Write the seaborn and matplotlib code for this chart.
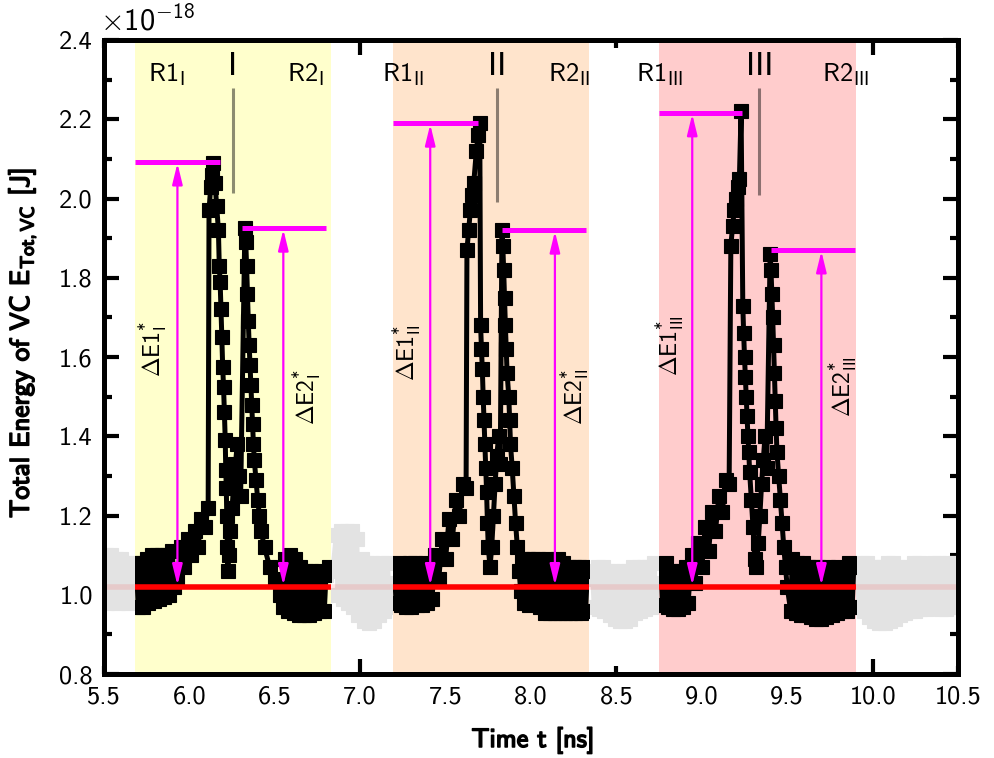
import numpy as np
import pandas as pd
import matplotlib
matplotlib.use("Agg")
import matplotlib.pyplot as plt
import matplotlib.patheffects as pe
from matplotlib.ticker import MultipleLocator, FormatStrFormatter, FixedLocator
import seaborn as sns

# ---------------- data (values in units of 1e-18 J, time in ns) ----------------
regions = [(5.68, 6.83), (7.19, 8.34), (8.75, 9.90)]
region_colors = ["#FFFFCC", "#FFE4CC", "#FFCCCC"]
roman = ["I", "II", "III"]
baseline = 1.02
peak1 = [2.093, 2.191, 2.217]
peak2 = [1.926, 1.921, 1.871]
peak1_x = [6.18, 7.69, 9.237]
peak2_x = [6.31, 7.83, 9.406]
peak2_end = [6.80, 8.32, 9.898]
arrow1_x = [5.93, 7.41, 8.944]
arrow2_x = [6.55, 8.14, 9.70]
marker_x = [6.255, 7.80, 9.336]
marker_bottom = [2.015, 1.99, 2.01]

t_I = [5.69, 5.70, 5.72, 5.73, 5.75, 5.76, 5.78, 5.79, 5.81, 5.82, 5.84, 5.85, 5.87, 5.88, 5.90, 5.91,
       5.93, 5.95, 5.97, 5.99, 6.01, 6.03, 6.05, 6.07, 6.09, 6.11,
       6.115, 6.125, 6.135, 6.14, 6.15, 6.16,
       6.17, 6.175, 6.18, 6.185, 6.19, 6.195, 6.20, 6.205, 6.21, 6.213, 6.216, 6.219, 6.222, 6.225,
       6.23, 6.24, 6.25, 6.26, 6.27, 6.28, 6.29, 6.30, 6.325,
       6.33, 6.335, 6.34, 6.345, 6.35, 6.355, 6.36, 6.365, 6.37, 6.375, 6.38, 6.39, 6.40, 6.41, 6.42,
       6.44, 6.47, 6.50, 6.53,
       6.55, 6.56, 6.58, 6.59, 6.61, 6.62, 6.64, 6.65, 6.67, 6.68, 6.70, 6.71, 6.73, 6.74, 6.76, 6.77,
       6.79, 6.80, 6.82]
E_I = [1.08, 0.97, 1.08, 0.97, 1.09, 0.98, 1.10, 0.985, 1.10, 0.99, 1.10, 0.995, 1.10, 1.00, 1.11, 1.02,
       1.04, 1.12, 1.07, 1.14, 1.10, 1.16, 1.12, 1.19, 1.17, 1.22,
       1.97, 2.03, 2.06, 2.09, 2.04, 1.98,
       1.92, 1.83, 1.79, 1.72, 1.65, 1.575, 1.525, 1.46, 1.39, 1.315, 1.27, 1.20, 1.12, 1.06,
       1.10, 1.16, 1.22, 1.28, 1.33, 1.38, 1.30, 1.25, 1.926,
       1.89, 1.83, 1.76, 1.69, 1.63, 1.58, 1.53, 1.48, 1.43, 1.38, 1.34, 1.29, 1.24, 1.20, 1.16,
       1.12, 1.07, 1.04, 1.00,
       0.97, 1.09, 0.96, 1.10, 0.955, 1.09, 0.95, 1.07, 0.95, 1.06, 0.95, 1.06, 0.955, 1.05, 0.96, 1.06,
       0.96, 1.05, 1.07]

t_II = [7.20, 7.21, 7.23, 7.24, 7.26, 7.27, 7.29, 7.30, 7.32, 7.33, 7.35, 7.36, 7.38, 7.39, 7.41, 7.42,
        7.44, 7.46, 7.48, 7.50, 7.52, 7.54, 7.56, 7.58, 7.60, 7.62,
        7.625, 7.635, 7.645, 7.655, 7.665, 7.68, 7.69, 7.70,
        7.705, 7.71, 7.715, 7.72, 7.725, 7.73, 7.735, 7.74, 7.745, 7.75, 7.76,
        7.77, 7.78, 7.79, 7.80, 7.81, 7.82, 7.83,
        7.835, 7.84, 7.845, 7.85, 7.855, 7.86, 7.87, 7.875, 7.88, 7.89, 7.90, 7.91, 7.92, 7.93, 7.94,
        7.95, 7.96, 7.98, 7.99, 8.01, 8.02, 8.04, 8.05, 8.07, 8.08, 8.10, 8.11, 8.13, 8.14, 8.16, 8.17,
        8.19, 8.20, 8.22, 8.23, 8.25, 8.26, 8.28, 8.29, 8.31, 8.32, 8.33]
E_II = [1.07, 0.98, 1.08, 0.975, 1.07, 0.97, 1.08, 0.97, 1.08, 0.975, 1.07, 0.975, 1.08, 0.98, 1.07, 0.99,
        1.10, 1.04, 1.14, 1.09, 1.19, 1.14, 1.24, 1.20, 1.28, 1.27,
        1.87, 1.92, 1.97, 2.01, 2.04, 2.12, 2.16, 2.19,
        1.68, 1.62, 1.57, 1.50, 1.44, 1.38, 1.32, 1.26, 1.18, 1.12, 1.07,
        1.12, 1.20, 1.28, 1.35, 1.40, 1.33, 1.92,
        1.88, 1.82, 1.75, 1.68, 1.62, 1.56, 1.50, 1.44, 1.38, 1.32, 1.25, 1.18, 1.12, 1.06, 1.01,
        1.09, 0.98, 1.09, 0.975, 1.09, 0.98, 1.09, 0.97, 1.08, 0.955, 1.09, 0.955, 1.08, 0.955, 1.09, 0.955,
        1.08, 0.955, 1.07, 0.955, 1.07, 0.955, 1.07, 0.955, 1.07, 0.96, 1.06]

t_III = [8.76, 8.77, 8.79, 8.80, 8.82, 8.83, 8.85, 8.86, 8.88, 8.89, 8.91, 8.92,
         8.94, 8.96, 8.98, 9.00, 9.02, 9.04, 9.06, 9.08, 9.10, 9.12, 9.14, 9.16,
         9.17, 9.18, 9.19, 9.20, 9.21, 9.22, 9.23,
         9.24, 9.245, 9.25, 9.255, 9.26, 9.265, 9.27, 9.275, 9.28, 9.29, 9.30, 9.31,
         9.32, 9.33, 9.34, 9.35, 9.36, 9.37, 9.38, 9.40,
         9.405, 9.41, 9.415, 9.42, 9.425, 9.43, 9.435, 9.44, 9.45, 9.46, 9.47, 9.48, 9.49, 9.50,
         9.52, 9.53, 9.55, 9.56, 9.58, 9.59, 9.61, 9.62, 9.64, 9.65, 9.67, 9.68, 9.70, 9.71, 9.73, 9.74,
         9.76, 9.77, 9.79, 9.80, 9.82, 9.83, 9.85, 9.86, 9.88, 9.89]
E_III = [1.07, 0.975, 1.08, 0.97, 1.06, 0.965, 1.05, 0.965, 1.06, 0.97, 1.07, 0.98,
         1.10, 1.03, 1.13, 1.07, 1.17, 1.11, 1.21, 1.16, 1.25, 1.21, 1.29, 1.28,
         1.88, 1.93, 1.97, 2.00, 2.03, 2.05, 2.22,
         1.73, 1.66, 1.60, 1.55, 1.50, 1.45, 1.40, 1.36, 1.31, 1.24, 1.17, 1.09,
         1.07, 1.13, 1.20, 1.28, 1.34, 1.40, 1.32, 1.86,
         1.82, 1.76, 1.70, 1.63, 1.56, 1.49, 1.42, 1.36, 1.30, 1.24, 1.18, 1.12, 1.07, 1.02,
         0.96, 1.09, 0.955, 1.08, 0.95, 1.08, 0.95, 1.07, 0.945, 1.07, 0.94, 1.07, 0.94, 1.06, 0.945, 1.07,
         0.95, 1.06, 0.955, 1.07, 0.96, 1.06, 0.96, 1.08, 0.97, 1.07]

t_bg = [5.50, 5.51, 5.52, 5.54, 5.55, 5.57, 5.58, 5.60, 5.61, 5.63, 5.64, 5.66, 5.67, 5.70,
        6.80, 6.84, 6.86, 6.87, 6.89, 6.90, 6.92, 6.93, 6.95, 6.96, 6.98, 6.99, 7.01, 7.02, 7.04, 7.05,
        7.07, 7.08, 7.10, 7.11, 7.13, 7.14, 7.16, 7.17, 7.20,
        8.32, 8.36, 8.37, 8.39, 8.40, 8.42, 8.43, 8.45, 8.46, 8.48, 8.49, 8.51, 8.52, 8.54, 8.55,
        8.57, 8.58, 8.60, 8.61, 8.63, 8.64, 8.66, 8.67, 8.69, 8.70, 8.72, 8.73, 8.77,
        9.88, 9.91, 9.92, 9.94, 9.95, 9.97, 9.98, 10.00, 10.01, 10.03, 10.04, 10.06, 10.07, 10.09, 10.10,
        10.12, 10.13, 10.15, 10.16, 10.18, 10.19, 10.21, 10.22, 10.24, 10.25, 10.27, 10.28, 10.30, 10.31,
        10.33, 10.34, 10.36, 10.37, 10.39, 10.40, 10.42, 10.43, 10.45, 10.46, 10.48, 10.49, 10.51]
E_bg = [1.04, 1.10, 0.98, 1.10, 0.985, 1.09, 0.98, 1.09, 0.985, 1.08, 0.98, 1.08, 0.99, 1.05,
        1.05, 1.06, 1.15, 1.00, 1.16, 0.99, 1.16, 0.98, 1.16, 0.97, 1.14, 0.95, 1.09, 0.935, 1.08, 0.93,
        1.08, 0.935, 1.07, 0.95, 1.08, 0.96, 1.08, 0.97, 1.03,
        1.04, 1.06, 0.97, 1.07, 0.965, 1.07, 0.96, 1.06, 0.95, 1.06, 0.94, 1.05, 0.935, 1.06, 0.935,
        1.06, 0.94, 1.07, 0.955, 1.07, 0.96, 1.07, 0.965, 1.07, 0.97, 1.08, 0.98, 1.03,
        1.04, 1.06, 0.97, 1.08, 0.96, 1.08, 0.945, 1.07, 0.935, 1.07, 0.93, 1.07, 0.93, 1.08, 0.935,
        1.08, 0.94, 1.07, 0.95, 1.06, 0.955, 1.07, 0.96, 1.08, 0.96, 1.08, 0.965, 1.07, 0.965,
        1.07, 0.97, 1.08, 0.97, 1.08, 0.965, 1.07, 0.965, 1.08, 0.97, 1.08, 0.97, 1.04]

x_ticks_major = [6.0, 7.0, 8.0, 9.0, 10.0]
x_ticks_minor = [5.5, 6.5, 7.5, 8.5, 9.5, 10.5]

# ---------------- style ----------------
sns.set_theme(style="ticks")
plt.rcParams["font.family"] = ["cmss10", "DejaVu Sans"]
plt.rcParams["mathtext.fontset"] = "custom"
plt.rcParams["mathtext.rm"] = "cmss10"
plt.rcParams["mathtext.sf"] = "cmss10"
plt.rcParams["mathtext.it"] = "cmss10"
plt.rcParams["mathtext.bf"] = "cmss10"
plt.rcParams["mathtext.fallback"] = "cm"
plt.rcParams["axes.unicode_minus"] = False
plt.rcParams["text.color"] = "black"
plt.rcParams["xtick.color"] = "black"
plt.rcParams["ytick.color"] = "black"
plt.rcParams["xtick.labelcolor"] = "black"
plt.rcParams["ytick.labelcolor"] = "black"

fig = plt.figure(figsize=(9.94, 7.58), dpi=100)
ax = fig.add_axes([0.1046, 0.1108, 0.8592, 0.8364])
ax.set_facecolor("white")

MS = 10.5
# background (full) series in light grey
sns.lineplot(x=t_bg, y=E_bg, ax=ax, sort=False, estimator=None, color="#E3E3E3",
             marker="s", markersize=MS, markeredgewidth=0.8, markeredgecolor="#E3E3E3",
             linewidth=3.6, zorder=1, legend=False)
ax.axhline(baseline, color="red", alpha=0.11, lw=4, zorder=1.3)

series = [(t_I, E_I), (t_II, E_II), (t_III, E_III)]
for i, ((a, b), col) in enumerate(zip(regions, region_colors)):
    span = ax.axvspan(a, b, color=col, lw=0, zorder=1.5)
    t, e = series[i]
    n_before = len(ax.lines)
    sns.lineplot(x=t, y=e, ax=ax, sort=False, estimator=None, color="black",
                 marker="s", markersize=MS, markeredgewidth=0.8, markeredgecolor="black",
                 linewidth=3.6, zorder=3, legend=False)
    for ln in ax.lines[n_before:]:
        ln.set_clip_path(span)
    ax.hlines(baseline, a, b, color="red", lw=4, zorder=4)
    # magenta level lines
    ax.hlines(peak1[i], a, peak1_x[i], color="magenta", lw=3.6, zorder=5)
    ax.hlines(peak2[i], peak2_x[i], peak2_end[i], color="magenta", lw=3.6, zorder=5)
    for xa, top in ((arrow1_x[i], peak1[i]), (arrow2_x[i], peak2[i])):
        ax.annotate("", xy=(xa, top - 0.004), xytext=(xa, baseline + 0.004),
                    arrowprops=dict(arrowstyle="<|-|>,head_length=0.9,head_width=0.22",
                                    color="magenta", lw=1.6, mutation_scale=14,
                                    shrinkA=0, shrinkB=0), zorder=6)
    ax.vlines(marker_x[i], marker_bottom[i], 2.28, color="black", alpha=0.45, lw=2.2, zorder=5)

# axes setup
ax.set_xlim(5.5, 10.5)
ax.set_ylim(0.8, 2.4)
ax.xaxis.set_major_locator(FixedLocator(x_ticks_major))
ax.xaxis.set_minor_locator(FixedLocator(x_ticks_minor))
ax.xaxis.set_major_formatter(FormatStrFormatter("%.1f"))
ax.xaxis.set_minor_formatter(FormatStrFormatter("%.1f"))
ax.yaxis.set_major_locator(MultipleLocator(0.2))
ax.yaxis.set_minor_locator(MultipleLocator(0.1))
ax.yaxis.set_major_formatter(FormatStrFormatter("%.1f"))
ax.tick_params(which="both", direction="in", top=True, right=True, width=3.0,
               labelsize=19, colors="black", labelcolor="black", pad=8)
ax.tick_params(which="major", length=11)
ax.tick_params(which="minor", length=6)
for sp in ax.spines.values():
    sp.set_linewidth(3.6)
    sp.set_color("black")
    sp.set_zorder(10)
ax.set_xlabel("")
ax.set_ylabel("")

bold = [pe.withStroke(linewidth=1.1, foreground="black")]
fig.text(533 / 994, 1 - 740 / 758, "Time t [ns]", ha="center", va="center", fontsize=19,
         color="black", path_effects=bold)
fig.text(22 / 994, 1 - 343 / 758, r"Total Energy of VC E$_{\mathrm{Tot,VC}}$ [J]", rotation=90,
         ha="center", va="center", fontsize=19.5, color="black", path_effects=bold)
fig.text(100 / 994, 1 - 30 / 758, r"$\times\mathrm{10}^{-18}$", ha="left", va="baseline",
         fontsize=22, color="black")

# region labels
r1_x = [5.757, 7.13, 8.617]
r2_x = [6.57, 8.097, 9.705]
for i in range(3):
    sub = r"$_{\mathrm{" + roman[i] + r"}}$"
    ax.text(r1_x[i], 2.313, "R1" + sub, ha="left", va="center", fontsize=19, color="black", zorder=7)
    ax.text(r2_x[i], 2.313, "R2" + sub, ha="left", va="center", fontsize=19, color="black", zorder=7)
    ax.text(marker_x[i], 2.333, roman[i], ha="center", va="center", fontsize=24, color="black", zorder=7)

# Delta E labels
dE1_pos = [(5.79, 1.62), (7.275, 1.61), (8.816, 1.63)]
dE2_pos = [(6.69, 1.50), (8.26, 1.50), (9.83, 1.525)]
for i in range(3):
    s1 = r"$\Delta\mathrm{E1}^{*}_{\mathrm{" + roman[i] + r"}}$"
    s2 = r"$\Delta\mathrm{E2}^{*}_{\mathrm{" + roman[i] + r"}}$"
    ax.text(*dE1_pos[i], s1, rotation=90, ha="center", va="center", fontsize=17, color="black", zorder=7)
    ax.text(*dE2_pos[i], s2, rotation=90, ha="center", va="center", fontsize=17, color="black", zorder=7)

fig.savefig("out.png", dpi=100)
